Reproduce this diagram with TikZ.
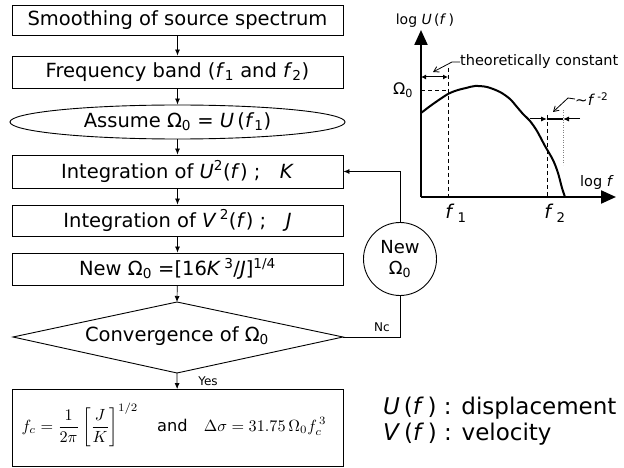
\documentclass[tikz,border=0pt]{standalone}
\usepackage{fontspec}
\setmainfont{DejaVu Sans}
\usetikzlibrary{arrows.meta,shapes.geometric}
\newcommand{\itx}[1]{\textit{#1}}
\begin{document}
\begin{tikzpicture}[x=1pt,y=-1pt,
  flowbox/.style={draw,line width=0.9pt,minimum width=331pt,inner sep=0pt,font=\fontsize{19.5}{22}\selectfont},
  conn/.style={line width=0.7pt,-{Latex[length=6pt,width=5pt]}},
  axis/.style={line width=2.2pt,-{Triangle[length=15pt,width=13pt]}},
  dash1/.style={line width=0.9pt,dash pattern=on 4pt off 3pt},
  lbl/.style={inner sep=0pt,font=\fontsize{19.5}{22}\selectfont}]
\useasboundingbox (0,0) rectangle (624,468);
% flowchart
\node[flowbox,minimum height=30pt] (b1) at (177.5,20) {Smoothing of source spectrum};
\node[flowbox,minimum height=32pt] (b2) at (177.5,72) {Frequency band (\itx{f}\textsubscript{1} and \itx{f}\textsubscript{2})};
\node[flowbox,ellipse,minimum width=335pt,minimum height=34pt] (b3) at (177.5,122) {Assume Ω\textsubscript{0} = \itx{U}\,(\itx{f}\textsubscript{1})};
\node[flowbox,minimum height=33pt] (b4) at (177.5,171.5) {Integration of \itx{U}\textsuperscript{2}(\itx{f}) ;\quad\itx{K}};
\node[flowbox,minimum height=31pt] (b5) at (177.5,220.5) {Integration of \itx{V}\,\textsuperscript{2}(\itx{f}) ;\quad\itx{J}};
\node[flowbox,minimum height=32pt] (b6) at (177.5,269) {New Ω\textsubscript{0} =[16\itx{K}\,\textsuperscript{3}/\itx{J}]\textsuperscript{1/4}};
\coordinate (dt) at (177,302);
\coordinate (db) at (177,373);
\coordinate (dl) at (13,337);
\coordinate (dr) at (343,337);
\draw[line width=0.9pt] (dt) -- (dr) -- (db) -- (dl) -- cycle;
\node[lbl] (dtext) at (177,336) {Convergence of Ω\textsubscript{0}};
\node[draw,line width=0.9pt,minimum width=331pt,minimum height=77pt,inner sep=0pt] (b7) at (177.5,428) {};
\node[inner sep=0pt] (form) at (174,425) {\scalebox{1.62}{$\displaystyle f_c=\frac{1}{2\pi}\left[\frac{J}{K}\right]^{1/2}\quad\mathrm{and}\quad \Delta\sigma=31.75\,\Omega_0 f_c^{\,3}$}};
\node[draw,circle,line width=0.9pt,minimum size=73pt,inner sep=0pt,align=center,font=\fontsize{18}{21}\selectfont] (nw) at (400,259) {New\\Ω\textsubscript{0}};
\draw[conn] (b1) -- (b2);
\draw[conn] (b2) -- (b3);
\draw[conn] (b3) -- (b4);
\draw[conn] (b4) -- (b5);
\draw[conn] (b5) -- (b6);
\draw[conn] (b6) -- (dt);
\draw[conn] (db) -- (b7);
\draw[line width=0.7pt] (dr) -| (nw.south);
\draw[conn] (nw.north) |- (b4.east);
\node[inner sep=0pt,font=\fontsize{12}{14}\selectfont] (yes) at (208,381) {Yes};
\node[inner sep=0pt,font=\fontsize{12}{14}\selectfont] (nc) at (382,327) {Nc};
% graph
\coordinate (o) at (421,197);
\coordinate (ytop) at (421,30);
\coordinate (xend) at (616,197);
\draw[axis] (o) -- (ytop);
\draw[axis] (o) -- (xend);
\coordinate (f1t) at (448,68);
\coordinate (f1b) at (448,197);
\draw[dash1] (f1t) -- (f1b);
\coordinate (om) at (421,90);
\coordinate (omr) at (448,90);
\draw[dash1] (om) -- (omr);
\coordinate (f2t) at (547,115);
\coordinate (f2b) at (547,197);
\draw[dash1] (f2t) -- (f2b);
\coordinate (dtt) at (563,110);
\coordinate (dtb) at (563,165);
\draw[line width=0.5pt,gray,dotted] (dtt) -- (dtb);
\draw[line width=2pt,line join=round] plot[smooth,tension=0.5] coordinates {(421,113) (433,104) (448,94) (458,90) (466,88) (475,86) (487,87) (500,92) (510,99) (517,107) (523,114) (530,121) (537,131) (545,146) (553,160) (558,173) (562,188) (565,197)};
\coordinate (ca) at (421,77);
\coordinate (cb) at (448,77);
\draw[line width=1pt,{Latex[length=5pt,width=5pt]}-{Latex[length=5pt,width=5pt]}] (ca) -- (cb);
\coordinate (sa) at (530,119);
\coordinate (sb) at (580,119);
\coordinate (s1) at (547,119);
\coordinate (s2) at (563,119);
\draw[line width=1.2pt] (s1) -- (s2);
\draw[line width=1pt,-{Latex[length=6pt,width=5pt]}] (sa) -- (s1);
\draw[line width=1pt,-{Latex[length=6pt,width=5pt]}] (sb) -- (s2);
\node[lbl,font=\fontsize{14.5}{17}\selectfont,anchor=west] (tc) at (460,62) {theoretically constant};
\coordinate (tck) at (452,62);
\coordinate (tca) at (433,72);
\draw[line width=0.8pt,-{Straight Barb[length=5pt,width=6pt]}] (tc.west) -- (tck) -- (tca);
\node[lbl,font=\fontsize{15}{18}\selectfont,anchor=west] (fm) at (575,99) {\textasciitilde\itx{f}\,\textsuperscript{-2}};
\coordinate (fmk) at (568,98);
\coordinate (fma) at (553,112);
\draw[line width=0.8pt,-{Straight Barb[length=5pt,width=6pt]}] (fm.west) -- (fmk) -- (fma);
\node[lbl,font=\fontsize{14}{17}\selectfont] (ly) at (425,21) {log \itx{U}\,(\itx{f}\,)};
\node[lbl,font=\fontsize{16}{19}\selectfont] (lo) at (403,90) {Ω\textsubscript{0}};
\node[lbl,font=\fontsize{14.5}{17}\selectfont] (lx) at (597,182) {log \itx{f}};
\node[lbl,font=\fontsize{19}{22}\selectfont] (lf1) at (456,213) {\itx{f}\,\textsubscript{1}};
\node[lbl,font=\fontsize{19}{22}\selectfont] (lf2) at (555,213) {\itx{f}\,\textsubscript{2}};
% legend
\node[lbl,font=\fontsize{23}{26}\selectfont,anchor=west] (lg1) at (383,408) {\itx{U}\,(\itx{f}\,) : displacement};
\node[lbl,font=\fontsize{23}{26}\selectfont,anchor=west] (lg2) at (383,434) {\itx{V}\,(\itx{f}\,) : velocity};
\end{tikzpicture}
\end{document}
